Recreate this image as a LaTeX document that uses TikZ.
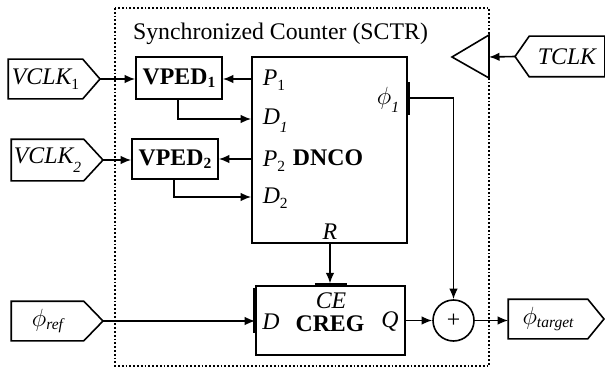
\documentclass[tikz,border=0pt]{standalone}
\usepackage{fontspec}
\setmainfont{Liberation Serif}
\usetikzlibrary{arrows.meta,calc}
\newcommand\lsub[2][-0.22em]{\raisebox{#1}{\fontsize{15.5}{15.5}\selectfont #2}}
\newcommand\phisym{\ensuremath{\phi}}
\begin{document}
\fontsize{23.8}{26}\selectfont
\begin{tikzpicture}[x=1pt,y=-1pt,line width=1.6pt,
  >={Latex[length=10.5pt,width=8.5pt]},
  box/.style={draw,rectangle,inner sep=0pt},
  every node/.style={inner sep=0pt},
  thickport/.style={line width=3.6pt,line cap=butt}]
\useasboundingbox (0,0) rectangle (605,369);
% frame
\draw[dotted,line width=1.8pt] (115,8) rectangle (489,366);
\node (title) at (280.5,34) {Synchronized Counter (SCTR)};
% blocks
\node[box,minimum width=86pt,minimum height=42pt,font=\bfseries] (vped1) at (179,78) {VPED\lsub[-0.12em]{1}};
\node[box,minimum width=86pt,minimum height=40pt,font=\bfseries] (vped2) at (175,159) {VPED\lsub[-0.12em]{2}};
\node[box,minimum width=155pt,minimum height=186pt] (dnco) at (329.5,150) {};
\node[font=\bfseries] (dncot) at (328,158) {DNCO};
\node[box,minimum width=149pt,minimum height=69pt] (creg) at (330.5,320.5) {};
\node[font=\bfseries] (cregt) at (330,323.5) {CREG};
\node[draw,circle,minimum size=41pt] (add) at (453.5,320.5) {+};
% port labels
\node[anchor=west] (lp1) at (262,80) {\itshape P\lsub{\upshape 1}};
\node[anchor=west] (ld1) at (262,121) {\itshape D\lsub[-0.35em]{1}};
\node[anchor=west] (lp2) at (262,161) {\itshape P\lsub{\upshape 2}};
\node[anchor=west] (ld2) at (262,198) {\itshape D\lsub{\upshape 2}};
\node (lphi) at (388,100) {\phisym\lsub[-0.35em]{\itshape 1}};
\node (lr) at (330,232) {\itshape R};
\node (ce) at (331,300.5) {\itshape CE};
\node (ld) at (271,322) {\itshape D};
\node (lq) at (390,322) {\itshape Q};
% port marks
\draw[thickport] (dnco.east |- 0,82) -- (dnco.east |- 0,115);
\draw[thickport] (creg.west |- 0,288) -- (creg.west |- 0,333);
\draw[thickport] (ce.west |- creg.north) -- (ce.east |- creg.north);
% tags
\node[minimum width=73pt,minimum height=38pt] (vclk1) at (45.5,79) {\itshape VCLK\lsub{\upshape 1}};
\coordinate (vclk1tip) at (100,79);
\draw (vclk1.north west) -- (vclk1.north east) -- (vclk1tip) -- (vclk1.south east) -- (vclk1.south west) -- cycle;
\node[minimum width=71pt,minimum height=40pt] (vclk2) at (47.5,160) {\itshape VCLK\lsub[-0.35em]{2}};
\coordinate (vclk2tip) at (103,160);
\draw (vclk2.north west) -- (vclk2.north east) -- (vclk2tip) -- (vclk2.south east) -- (vclk2.south west) -- cycle;
\node[minimum width=71pt,minimum height=38pt] (phiref) at (47.5,321) {\phisym\lsub[-0.15em]{\itshape ref}};
\coordinate (phireftip) at (103,321);
\draw (phiref.north west) -- (phiref.north east) -- (phireftip) -- (phiref.south east) -- (phiref.south west) -- cycle;
\node[minimum width=78pt,minimum height=38pt] (phitgt) at (548,319) {\phisym\lsub[-0.15em]{\itshape target}};
\coordinate (phitgttip) at (604,319);
\draw (phitgt.north west) -- (phitgt.north east) -- (phitgttip) -- (phitgt.south east) -- (phitgt.south west) -- cycle;
\node[minimum width=74pt,minimum height=39pt] (tclk) at (567,56.5) {\itshape TCLK};
\coordinate (tclktip) at (515,56.5);
\draw (tclk.north east) -- (tclk.north west) -- (tclktip) -- (tclk.south west) -- (tclk.south east) -- cycle;
% buffer
\coordinate (bufbase) at (489,57);
\draw (452,57) -- (489,35) -- (489,78) -- cycle;
% connectors
\draw[->] (vclk1tip) -- (vclk1tip -| vped1.west);
\draw[->] (vclk2tip) -- (vclk2tip -| vped2.west);
\draw[->] (dnco.west |- 0,79) -- (vped1.east |- 0,79);
\draw[->] (dnco.west |- 0,159) -- (vped2.east |- 0,159);
\draw[->] (vped1.south -| 178,0) |- (dnco.west |- 0,119);
\draw[->] (vped2.south -| 174,0) |- (dnco.west |- 0,197);
\draw[->] (dnco.east |- 0,98) -| (add.north);
\draw[->,shorten >=1.8pt] (dnco.south -| 330,0) -- (creg.north -| 330,0);
\draw[->] (phireftip) -- (phireftip -| creg.west);
\draw[->] (creg.east |- add.west) -- (add.west);
\draw[->] (add.east) -- (add.east -| phitgt.west);
\draw[->] (tclktip) -- (bufbase);
\end{tikzpicture}
\end{document}
